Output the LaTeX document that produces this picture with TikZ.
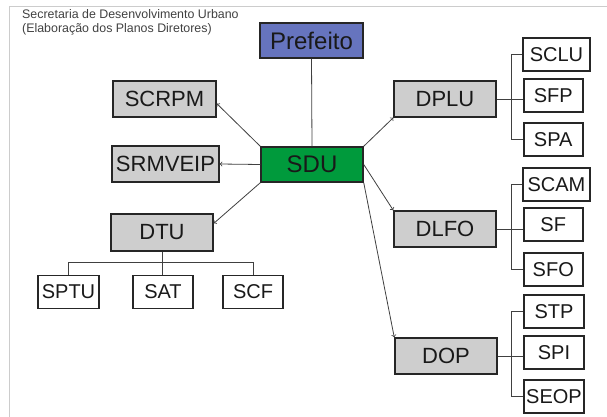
\documentclass[tikz,border=0pt]{standalone}
\usepackage{fontspec}
\setmainfont{Liberation Sans}
\usepackage{tikz}
\usetikzlibrary{positioning}

\definecolor{prefblue}{RGB}{102,116,190}
\definecolor{sdugreen}{RGB}{0,154,60}
\definecolor{boxgray}{RGB}{206,206,206}

\begin{document}
\begin{tikzpicture}[x=1pt, y=-1pt,
    box/.style={draw=black!85, line width=1.5pt, inner sep=0pt, text=black!90},
    topbox/.style={box, minimum width=103pt, minimum height=35pt, font=\fontsize{24}{24}\selectfont},
    deptbox/.style={box, fill=boxgray, minimum width=102pt, minimum height=36pt, font=\fontsize{22}{22}\selectfont},
    leafbox/.style={box, fill=white, minimum height=33pt, font=\fontsize{20}{20}\selectfont},
    link/.style={draw=black!75, line width=0.8pt},
    arr/.style={link, ->}]
    \useasboundingbox (0,0) rectangle (607,417);

    % Frame
    \draw[black!20] (9,417) -- (9,6) -- (607,6);

    % Title
    \node[anchor=north west, align=left, text=black!75, inner sep=0pt,
          font=\fontsize{12.4}{14}\selectfont] (title) at (22,9)
          {Secretaria de Desenvolvimento Urbano\\(Elaboração dos Planos Diretores)};

    % Top of the chart
    \node[topbox, fill=prefblue] (pref) at (311.5,40.5) {Prefeito};
    \node[topbox, fill=sdugreen, minimum width=102pt] (sdu) at (312,164.5) {SDU};

    % Left side
    \node[deptbox, minimum width=103pt] (scrpm) at (164.5,99) {SCRPM};
    \node[deptbox, minimum width=107pt] (srmveip) at (165.5,164) {SRMVEIP};
    \node[deptbox, minimum height=37pt] (dtu) at (162,232.5) {DTU};
    \node[leafbox, minimum width=61pt] (sptu) at (68.5,292) {SPTU};
    \node[leafbox, minimum width=60pt] (sat) at (163,292) {SAT};
    \node[leafbox, minimum width=60pt] (scf) at (253,292) {SCF};

    % Right side
    \node[deptbox] (dplu) at (445,99) {DPLU};
    \node[leafbox, minimum width=67pt] (sclu) at (556.5,54.5) {SCLU};
    \node[leafbox, minimum width=59pt, anchor=west] (sfp) at (523,95.5) {SFP};
    \node[leafbox, minimum width=59pt, anchor=west] (spa) at (523,139.5) {SPA};

    \node[deptbox] (dlfo) at (445,229) {DLFO};
    \node[leafbox, minimum width=67pt] (scam) at (556.5,184.5) {SCAM};
    \node[leafbox, minimum width=59pt, anchor=west] (sf) at (523,224.5) {SF};
    \node[leafbox, minimum width=59pt, anchor=west] (sfo) at (523,269.5) {SFO};

    \node[deptbox] (dop) at (446,356) {DOP};
    \node[leafbox, minimum width=60pt] (stp) at (554,311.5) {STP};
    \node[leafbox, minimum width=60pt] (spi) at (554,352.5) {SPI};
    \node[leafbox, minimum width=60pt] (seop) at (554,396.5) {SEOP};

    % Links from SDU
    \draw[link] (pref.south) -- (sdu.north);
    \draw[arr] (sdu.north west) -- (scrpm.-5);
    \draw[arr] (sdu.west) -- (srmveip.east);
    \draw[arr] (sdu.south west) -- (dtu.10);
    \draw[arr] (sdu.north east) -- (dplu.south west);
    \draw[arr] (sdu.east) -- (dlfo.north west);
    \draw[arr] (sdu.south east) -- (dop.north west);

    % Sub units
    \draw[link] (dtu.south) -- (dtu.south |- sat.north);
    \draw[link] (sptu.north) -- ++(0,-12) -| (scf.north);
    \draw[link] (dplu.east) -- (dplu.east -| sfp.west);
    \draw[link] (sclu.west) -- ++(-11,0) |- (spa.west);
    \draw[link] (dlfo.east) -- (dlfo.east -| sf.west);
    \draw[link] (scam.west) -- ++(-11,0) |- (sfo.west);
    \draw[link] (dop.east) -- (dop.east -| spi.west);
    \draw[link] (stp.west) -- ++(-12,0) |- (seop.west);

\end{tikzpicture}
\end{document}
